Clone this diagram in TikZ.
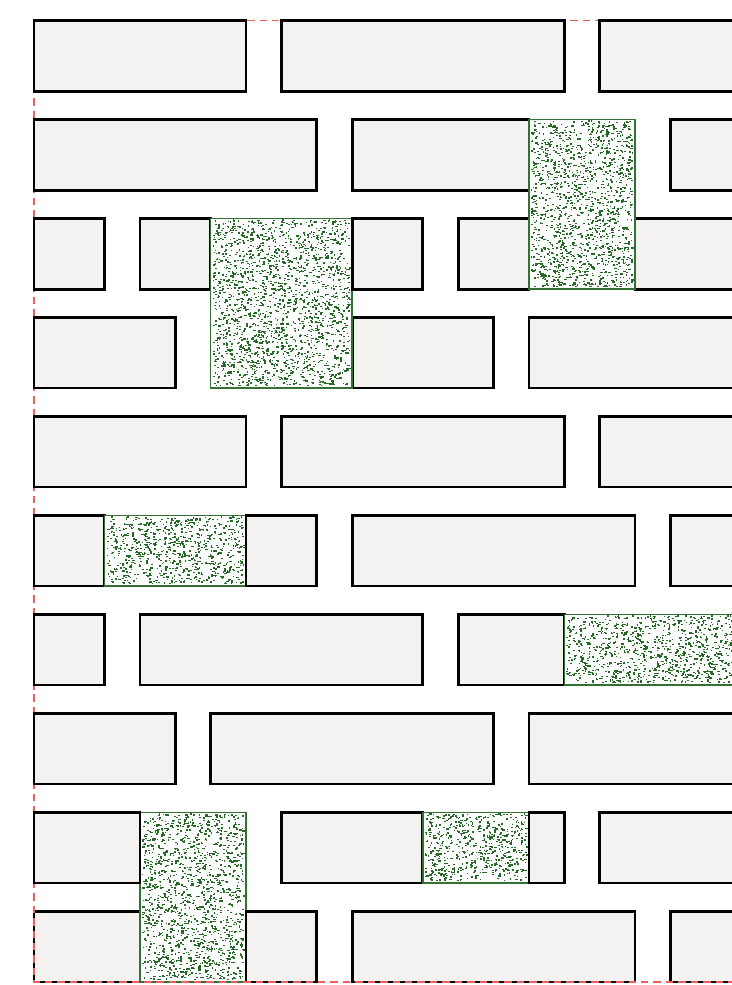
\documentclass[tikz,border=0pt]{standalone}
\definecolor{brickfill}{RGB}{243,242,241}
\definecolor{mossline}{RGB}{52,112,52}
\definecolor{mossdot}{RGB}{38,105,38}
\definecolor{edgered}{RGB}{238,95,95}
\tikzset{
  brick/.style={draw=black,fill=brickfill,line width=2.2pt,line join=miter},
  moss/.style={draw=mossline,fill=white,line width=1.2pt},
  mossspeck/.style={fill=mossdot},
  siteedge/.style={draw=edgered,line width=1.1pt,dash pattern=on 6pt off 4pt}
}
\newcommand\mossblock[4]{%
  \draw[moss] (#1,#2) rectangle (#3,#4);
  \pgfmathsetmacro\mbw{#3-#1}%
  \pgfmathsetmacro\mbh{#4-#2}%
  \pgfmathtruncatemacro\mbn{\mbw*\mbh*105}%
  \foreach \i in {1,...,\mbn}{%
    \pgfmathsetmacro\rx{#1+0.05+(\mbw-0.14)*rnd}%
    \pgfmathsetmacro\ry{#2+0.05+(\mbh-0.11)*rnd}%
    \pgfmathsetmacro\rw{0.03+0.04*rnd}%
    \fill[mossspeck] (\rx,\ry) rectangle ++(\rw,0.038);
  }%
}
\newcommand\brickrow[2]{% row bottom y, list of x1/x2
  \foreach \a/\b in {#2}{\draw[brick] (\a,#1) rectangle (\b,#1+2);}%
}
\begin{document}
\begin{tikzpicture}
\pgfmathsetseed{4242}
\useasboundingbox (-0.962,-0.085) rectangle (19.745,27.78);
\clip (-0.962,-0.085) rectangle (19.745,27.78);
% row 10 (bottom)
\brickrow{0}{0/3}
\mossblock{3}{0}{6}{4.8}
\brickrow{0}{6/8,9/17,18/21}
% site boundary
\draw[siteedge] (21,27.2) -- (0,27.2) -- (0,0) -- (21,0);
% row 9
\brickrow{2.8}{0/3,7/11}
\mossblock{11}{2.8}{14}{4.8}
\brickrow{2.8}{14/15,16/21}
% row 8
\brickrow{5.6}{0/4,5/13,14/21}
% row 7
\brickrow{8.4}{0/2,3/11,12/15}
\mossblock{15}{8.4}{21}{10.4}
% row 6
\brickrow{11.2}{0/2}
\mossblock{2}{11.2}{6}{13.2}
\brickrow{11.2}{6/8,9/17,18/21}
% row 5
\brickrow{14}{0/6,7/15,16/21}
% row 4
\brickrow{16.8}{0/4,9/13,14/21}
% row 3
\brickrow{19.6}{0/2,3/5}
\mossblock{5}{16.8}{9}{21.6}
\brickrow{19.6}{9/11,12/14,17/21}
% row 2
\brickrow{22.4}{0/8,9/14}
\mossblock{14}{19.6}{17}{24.4}
\brickrow{22.4}{18/21}
% row 1
\brickrow{25.2}{0/6,7/15,16/21}
\end{tikzpicture}
\end{document}
